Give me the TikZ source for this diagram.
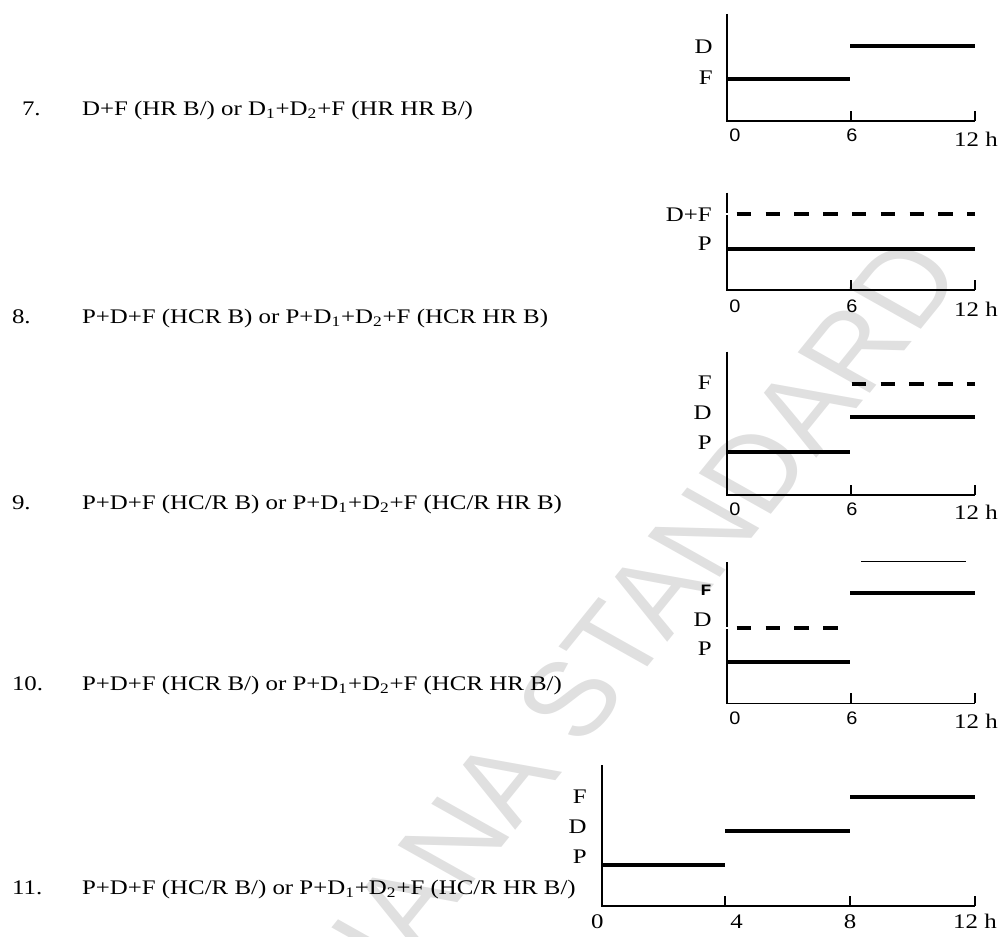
\documentclass[tikz,border=0pt]{standalone}
\usepackage{fontspec}
\setmainfont{Liberation Serif}[FakeStretch=1.2]
\newfontfamily\ticksans{Liberation Sans}[FakeStretch=1.1]
\newfontfamily\tickmono{Liberation Mono}[FakeStretch=1.2]
\newfontfamily\wmfont{Liberation Sans}
\newcommand{\lblsize}{\fontsize{11.8}{14}\selectfont}
\usetikzlibrary{arrows.meta}

\begin{document}
\begin{tikzpicture}[x=0.02cm,y=-0.02cm,
  axis/.style={line width=0.75pt},
  bar/.style={line width=2.3pt},
  dbar/.style={bar,dash pattern=on 8.2pt off 8.2pt},
  notch/.style={white,line width=1.2pt},
  lab/.style={anchor=east,inner sep=0pt,font=\lblsize},
  tk/.style={anchor=base,inner sep=0pt,font=\ticksans\fontsize{10.3}{12}\selectfont},
  hr/.style={anchor=base,inner sep=0pt,font=\lblsize},
  item/.style={anchor=base west,inner sep=0pt,font=\lblsize}]
\useasboundingbox (0,0) rectangle (1003,936);
\node[xscale=1.2,rotate=56,text=black!12,inner sep=0pt,font=\wmfont\fontsize{60}{63}\selectfont] (wm) at (585,680) {INDIANA STANDARD};

\node[item] (n7) at (21.7,115) {7.};
\node[item] (t7) at (81.7,115) {D+F (HR B/) or D\textsubscript{1}+D\textsubscript{2}+F (HR HR B/)};
\node[item] (n8) at (11.7,323) {8.};
\node[item] (t8) at (81.7,323) {P+D+F (HCR B) or P+D\textsubscript{1}+D\textsubscript{2}+F (HCR HR B)};
\node[item] (n9) at (11.7,509) {9.};
\node[item] (t9) at (81.7,509) {P+D+F (HC/R B) or P+D\textsubscript{1}+D\textsubscript{2}+F (HC/R HR B)};
\node[item] (n10) at (11.7,690) {10.};
\node[item] (t10) at (81.7,690) {P+D+F (HCR B/) or P+D\textsubscript{1}+D\textsubscript{2}+F (HCR HR B/)};
\node[item] (n11) at (11.7,894) {11.};
\node[item] (t11) at (81.7,894) {P+D+F (HC/R B/) or P+D\textsubscript{1}+D\textsubscript{2}+F (HC/R HR B/)};

\draw[axis] (727,14) -- (727,121) -- (975,121);
\draw[axis] (851,121) -- (851,111) (975,121) -- (975,111);
\draw[bar] (850,45.7) -- (975,45.7);
\draw[bar] (727,79) -- (850,79);
\node[lab] (d7) at (713,46.7) {D};
\node[lab] (f7) at (713,78) {F};
\node[tk] (a7) at (735,141.7) {0};
\node[tk] (b7) at (852,141.7) {6};
\node[hr] (c7) at (976,146.7) {12 h};

\draw[axis] (727,192.7) -- (727,290) -- (975,290);
\draw[axis] (851,290) -- (851,280) (975,290) -- (975,280);
\draw[notch] (725.5,214) -- (728.5,214);
\draw[dbar] (736.7,214) -- (975,214);
\draw[bar] (727,249) -- (975,249);
\node[lab] (df8) at (712,215) {D+F};
\node[lab] (p8) at (712,244) {P};
\node[tk] (a8) at (735,312) {0};
\node[tk] (b8) at (852,312) {6};
\node[hr] (c8) at (976,316) {12 h};

\draw[axis] (727,351.7) -- (727,495) -- (975,495);
\draw[axis] (851,495) -- (851,485) (975,495) -- (975,485);
\draw[dbar] (851.7,384) -- (975,384);
\draw[bar] (850,417.3) -- (975,417.3);
\draw[bar] (727,451.7) -- (850,451.7);
\node[lab] (f9) at (712,382.7) {F};
\node[lab] (d9) at (712,413) {D};
\node[lab] (p9) at (712,443) {P};
\node[tk] (a9) at (735,515) {0};
\node[tk] (b9) at (852,515) {6};
\node[hr] (c9) at (976,519) {12 h};

\draw[axis] (727,562) -- (727,703.3) -- (975,703.3);
\draw[axis] (851,703.3) -- (851,693.3) (975,703.3) -- (975,693.3);
\draw[axis] (861,561.7) -- (966,561.7);
\draw[bar] (850,593.3) -- (975,593.3);
\draw[notch] (725.5,628.3) -- (728.5,628.3);
\draw[dbar] (736.7,628.3) -- (837.5,628.3);
\draw[bar] (727,661.7) -- (850,661.7);
\node[lab,font=\tickmono\bfseries\fontsize{9}{10}\selectfont] (f10) at (712,590.7) {F};
\node[lab] (d10) at (712,619.3) {D};
\node[lab] (p10) at (712,648.3) {P};
\node[tk] (a10) at (735,724) {0};
\node[tk] (b10) at (852,724) {6};
\node[hr] (c10) at (976,728) {12 h};

\draw[axis] (602,765) -- (602,906) -- (975,906);
\draw[axis] (725,906) -- (725,896) (850,906) -- (850,896) (975,906) -- (975,896);
\draw[bar] (850,796.7) -- (975,796.7);
\draw[bar] (725,830.7) -- (850,830.7);
\draw[bar] (602,864.7) -- (725,864.7);
\node[lab] (f11) at (587,797) {F};
\node[lab] (d11) at (587,826.7) {D};
\node[lab] (p11) at (587,856.7) {P};
\node[hr] (a11) at (597.3,928) {0};
\node[hr] (b11) at (736.7,928) {4};
\node[hr] (e11) at (850,928) {8};
\node[hr] (c11) at (975,928) {12 h};
\end{tikzpicture}
\end{document}
